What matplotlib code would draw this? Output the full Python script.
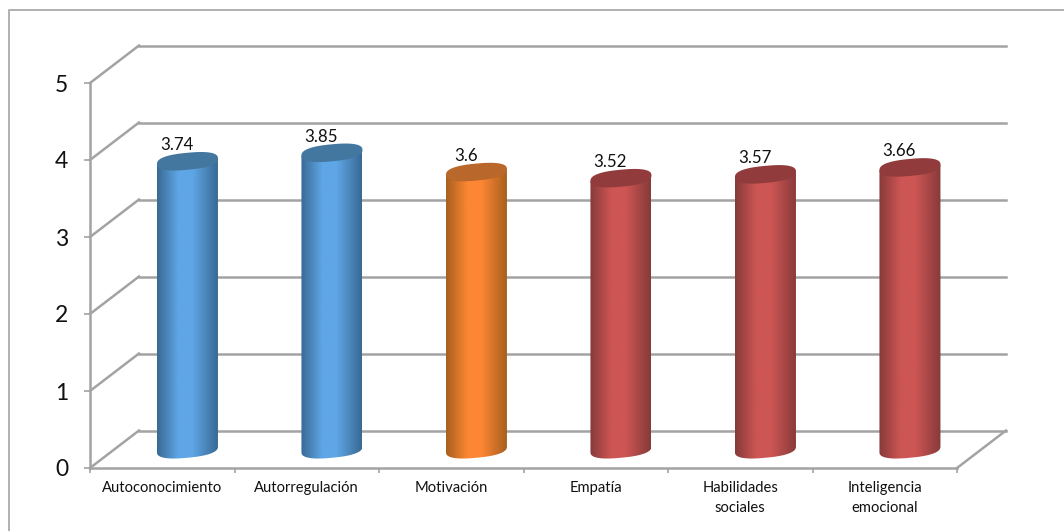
import numpy as np
import matplotlib
matplotlib.use("Agg")
import matplotlib.pyplot as plt
from matplotlib.colors import LinearSegmentedColormap
from matplotlib.lines import Line2D
from matplotlib.patches import PathPatch
from matplotlib.path import Path

categories = ["Autoconocimiento", "Autorregulación", "Motivación", "Empatía",
              "Habilidades\nsociales", "Inteligencia\nemocional"]
values = [3.74, 3.85, 3.6, 3.52, 3.57, 3.66]
value_labels = ["3.74", "3.85", "3.6", "3.52", "3.57", "3.66"]
y_ticks = [0, 1, 2, 3, 4, 5]

BLUE = ("#386a94", "#5fa6e6", "#44779f")
ORANGE = ("#a8601f", "#fd8633", "#b9672a")
RED = ("#873a3a", "#cd5654", "#913b3c")
bar_colours = [BLUE, BLUE, ORANGE, RED, RED, RED]

W, H = 1064, 531
GREY = "#a3a3a3"
plt.rcParams["font.family"] = ["Lato", "DejaVu Sans"]

fig = plt.figure(figsize=(W / 100, H / 100), dpi=100, facecolor="white")

# Frame: only the top and left edges show
fig.add_artist(Line2D([9 / W, 9 / W, 1], [0, 1 - 10 / H, 1 - 10 / H], transform=fig.transFigure,
                      color="#b0b0b0", lw=1.4))

# Front plane of the pseudo-3D box
left, right, top, bottom = 90, 957, 83, 468
ax = fig.add_axes([left / W, 1 - bottom / H, (right - left) / W, (bottom - top) / H])
ax.set_xlim(0, 6)
ax.set_ylim(0, 5)
ax.patch.set_visible(False)

px = 6 / (right - left)          # data units per pixel, x
py = 5 / (bottom - top)          # data units per pixel, y
dx, dy = 49 * px, 37.5 * py      # depth of the box

# Back wall, side wall and floor
for v in y_ticks:
    ax.plot([dx, 6 + dx], [v + dy, v + dy], color=GREY, lw=1.8, clip_on=False, zorder=1)
    ax.plot([0, dx], [v, v + dy], color=GREY, lw=1.8, clip_on=False, zorder=1)
ax.plot([6, 6 + dx], [0, dy], color=GREY, lw=1.8, clip_on=False, zorder=1)

for s in ("top", "right"):
    ax.spines[s].set_visible(False)
for s in ("left", "bottom"):
    ax.spines[s].set_color(GREY)
    ax.spines[s].set_linewidth(1.8)
ax.set_xticks(np.arange(7))
ax.set_xticklabels([])
ax.set_xticks(np.arange(6) + 0.5, labels=categories, minor=True)
ax.set_yticks(y_ticks)
ax.tick_params(axis="x", which="major", length=3.5, width=1.2, color=GREY)
ax.tick_params(axis="x", which="minor", length=0, pad=9.5, labelsize=10.6, labelcolor="#111111")
ax.tick_params(axis="y", length=4.5, width=1.2, color=GREY, labelsize=16.5, pad=11, labelcolor="#111111")
for label in ax.get_xticklabels(minor=True):
    label.set_linespacing(1.5)

# Cylinders: half width and ellipse shape in pixels, converted to data units
half_w, half_h, tilt = 30.5, 8.5, 2.8
t = np.linspace(0, 2 * np.pi, 181)


def rim(cx, cy, angles):
    # Slightly squared ellipse, sheared so the right side sits higher
    c, s = np.cos(angles), np.sin(angles)
    c2 = np.sign(c) * np.abs(c) ** 0.8
    s2 = np.sign(s) * np.abs(s) ** 0.8
    xs = cx + half_w * px * c2
    ys = cy + (half_h * s2 + tilt * c2) * py
    return xs, ys


for i, (v, label, (edge, mid, cap)) in enumerate(zip(values, value_labels, bar_colours)):
    cx = i + 0.5 + dx / 2 + 0.7 * px
    base = dy / 2
    head = base + v
    lower = np.linspace(np.pi, 2 * np.pi, 61)
    xb, yb = rim(cx, base, lower)
    verts = np.vstack([[cx - half_w * px, head - tilt * py],
                       np.column_stack([xb, yb]),
                       [cx + half_w * px, head + tilt * py],
                       [cx - half_w * px, head - tilt * py]])
    codes = [Path.MOVETO] + [Path.LINETO] * (len(verts) - 2) + [Path.CLOSEPOLY]
    body = PathPatch(Path(verts, codes), fc="none", ec="none", transform=ax.transData)
    ax.add_patch(body)
    cmap = LinearSegmentedColormap.from_list("shade", [edge, mid, mid, edge], N=256)
    grad = np.interp(np.linspace(0, 1, 256), [0, 0.38, 0.55, 1], [0, 0.36, 0.64, 1])[None, :]
    im = ax.imshow(grad, cmap=cmap, aspect="auto", zorder=3, interpolation="bilinear",
                   extent=[cx - half_w * px, cx + half_w * px, base - 12 * py, head + 12 * py])
    im.set_clip_path(body)
    xt, yt = rim(cx, head, t)
    ax.fill(xt, yt, color=cap, zorder=4, lw=0, clip_on=False)
    ax.annotate(label, (cx, head), xytext=(-10.5, 8), textcoords="offset pixels", ha="center",
                va="bottom", fontsize=12.2, color="#111111", zorder=5, annotation_clip=False)

ax.set_xlim(0, 6)
ax.set_ylim(0, 5)
fig.savefig("out.png", dpi=100, facecolor="white")
